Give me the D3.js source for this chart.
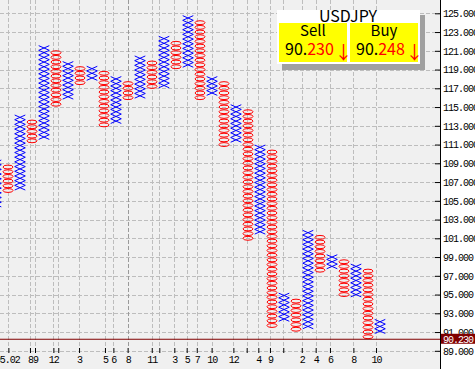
<!DOCTYPE html>
<html>
<head>
<meta charset="utf-8">
<script src="https://cdn.jsdelivr.net/npm/d3@7/dist/d3.min.js"></script>
<style>
    html, body { margin: 0; padding: 0; background: #fff; }
    svg { display: block; }
    .axis text { font-family: "Liberation Mono", monospace; font-size: 10px; letter-spacing: -1px; fill: #000; }
    .panel text { font-family: "Noto Sans CJK JP", "Noto Sans", sans-serif; }
</style>
</head>
<body>
<div id="chart"></div>
<script>
// point & figure columns, left to right (X = rising, O = falling)
const colTypes = ['X','O','X','O','X','O','X','O','X','O','X','O','X','O','X','O','X',
                  'O','X','O','X','O','X','O','X','O','X','O','X','O','X','O','X'];
const colHigh = [109.10, 108.60, 113.90, 113.40, 121.30, 120.80, 119.60, 119.10, 119.10, 118.60, 118.00,
                 117.50, 120.20, 119.70, 122.30, 121.80, 124.50, 124.00, 118.00, 117.50, 115.00, 114.50,
                 110.70, 110.20, 94.90, 94.30, 101.60, 101.10, 99.00, 98.50, 98.00, 97.50, 92.10];
const colLow  = [104.80, 105.90, 106.40, 111.20, 111.70, 115.50, 116.00, 117.50, 118.00, 112.90, 113.40,
                 116.00, 116.40, 117.00, 117.40, 119.10, 119.50, 116.10, 116.50, 111.20, 111.70, 101.20,
                 101.60, 91.70, 92.20, 91.20, 91.60, 97.60, 98.10, 94.80, 95.20, 90.50, 91.00];
const boxSize = 0.5;

// date ticks sit between columns (column units) with month labels
const dateTickCols   = [1.03, 2.83, 3.25, 4.78, 5.19, 6.92, 9.08, 9.78, 10.97, 12.98, 13.61, 14.86,
                        15.89, 16.73, 17.97, 19.78, 20.89, 21.86, 22.83, 23.94, 25.48, 26.64, 27.83, 29.78, 31.67];
const dateTickLabels = ['05.02', '8', '9', '12', '', '3', '5', '6', '8', '11', '', '3',
                        '5', '7', '10', '12', '', '4', '9', '', '2', '4', '6', '8', '10'];
const strongTick = 8;   // index of the darker grid line

const priceTicks = [125, 123, 121, 119, 117, 115, 113, 111, 109, 107, 105, 103, 101, 99, 97, 95, 93, 91, 89];
const lastPrice = 90.230;
const pairName = 'USDJPY';
const sellQuote = ['90.', '230'];
const buyQuote  = ['90.', '248'];

const W = 475, H = 369;
const plotRight = 440, plotBottom = 348;

const x = d3.scaleLinear().domain([0, 32]).range([-4, 380]);
const y = d3.scaleLinear().domain([89, 125]).range([350.8, 13.3]);
const boxPx = y(0) - y(boxSize);
const fmt = d3.format('.3f');

const svg = d3.select('#chart').append('svg')
    .attr('width', W).attr('height', H);

svg.append('rect').attr('width', W).attr('height', H).attr('fill', '#ffffff');
svg.append('rect').attr('width', plotRight).attr('height', H).attr('fill', '#f0f0f0');

// grid
const grid = svg.append('g');
grid.selectAll('line.h').data(priceTicks).join('line')
    .attr('x1', 0).attr('x2', plotRight)
    .attr('y1', d => Math.round(y(d)) + 0.5).attr('y2', d => Math.round(y(d)) + 0.5)
    .attr('stroke', '#bdbdbd').attr('stroke-dasharray', '4,2');
grid.selectAll('line.v').data(dateTickCols).join('line')
    .attr('x1', d => Math.round(x(d)) + 0.5).attr('x2', d => Math.round(x(d)) + 0.5)
    .attr('y1', 0).attr('y2', plotBottom)
    .attr('stroke', (d, i) => i === strongTick ? '#9a9a9a' : '#bdbdbd')
    .attr('stroke-dasharray', '4,2');

// columns
const cols = svg.append('g').selectAll('g')
    .data(colTypes.map((t, i) => ({ t, i, hi: colHigh[i], lo: colLow[i] })))
    .join('g');

cols.each(function(c) {
    const n = Math.round((c.hi - c.lo) / boxSize) + 1;
    const boxes = d3.range(n).map(k => c.hi - k * boxSize);
    const g = d3.select(this);
    const cx = x(c.i);
    const hw = 5.3, hh = boxPx / 2;
    if (c.t === 'X') {
        g.selectAll('path').data(boxes).join('path')
            .attr('d', p => {
                const cy = y(p);
                return `M${cx - hw},${cy - hh}L${cx + hw},${cy + hh}M${cx + hw},${cy - hh}L${cx - hw},${cy + hh}`;
            })
            .attr('fill', 'none').attr('stroke', '#0000ff').attr('stroke-width', 1);
    } else {
        g.selectAll('ellipse').data(boxes).join('ellipse')
            .attr('cx', cx).attr('cy', p => y(p))
            .attr('rx', hw - 0.3).attr('ry', hh - 0.4)
            .attr('fill', 'none').attr('stroke', '#ff0000').attr('stroke-width', 1);
    }
});

// current price line
svg.append('line')
    .attr('x1', 0).attr('x2', plotRight)
    .attr('y1', y(lastPrice)).attr('y2', y(lastPrice))
    .attr('stroke', '#800000').attr('stroke-width', 1.2);

// bottom date axis
const xAxis = d3.axisBottom(x)
    .tickValues(dateTickCols)
    .tickFormat((d, i) => dateTickLabels[i])
    .tickSizeInner(5).tickSizeOuter(0).tickPadding(3);
svg.append('g').attr('class', 'axis')
    .attr('transform', `translate(0,${plotBottom})`)
    .call(xAxis)
    .call(g => g.select('.domain').remove())
    .call(g => g.selectAll('.tick text').filter((d, i) => i === 0).attr('dx', -1.5));

// right price axis
const yAxis = d3.axisRight(y)
    .tickValues(priceTicks)
    .tickFormat(fmt)
    .tickSizeInner(-5).tickSizeOuter(0).tickPadding(3);
svg.append('g').attr('class', 'axis')
    .attr('transform', `translate(${plotRight},0)`)
    .call(yAxis)
    .call(g => g.select('.domain').remove());
svg.append('line')
    .attr('x1', plotRight + 0.5).attr('x2', plotRight + 0.5)
    .attr('y1', 0).attr('y2', H)
    .attr('stroke', '#000');

// last price marker
const tag = svg.append('g').attr('class', 'axis');
tag.append('rect')
    .attr('x', plotRight + 1).attr('y', y(lastPrice) - 5.5)
    .attr('width', W - plotRight - 1).attr('height', 10)
    .attr('fill', '#800000');
tag.append('text')
    .attr('x', plotRight + 3).attr('y', y(lastPrice) + 3.5)
    .style('fill', '#fff')
    .text(fmt(lastPrice));

// quote panel
const panel = svg.append('g').attr('class', 'panel');
panel.append('rect').attr('x', 282).attr('y', 15).attr('width', 143).attr('height', 55).attr('fill', '#a0a0a0');
panel.append('rect').attr('x', 277).attr('y', 10).attr('width', 143).attr('height', 54).attr('fill', '#ffffff');
panel.append('text').attr('x', 348).attr('y', 22).attr('text-anchor', 'middle')
    .attr('font-size', 16).attr('fill', '#000').text(pairName);

const quotes = [
    { label: 'Sell', q: sellQuote, x0: 279 },
    { label: 'Buy',  q: buyQuote,  x0: 350 }
];
quotes.forEach(d => {
    panel.append('rect').attr('x', d.x0).attr('y', 23).attr('width', 68).attr('height', 39).attr('fill', '#ffff00');
    panel.append('text').attr('x', d.x0 + 34).attr('y', 36).attr('text-anchor', 'middle')
        .attr('font-size', 15).attr('fill', '#000').text(d.label);
    const t = panel.append('text').attr('x', d.x0 + 6).attr('y', 55).attr('font-size', 16);
    t.append('tspan').attr('fill', '#000').text(d.q[0]);
    t.append('tspan').attr('fill', '#ff0000').text(d.q[1]);
    panel.append('text').attr('x', d.x0 + 64.5).attr('y', 59).attr('text-anchor', 'middle')
        .attr('font-size', 18).attr('fill', '#ff0000').text('↓');
});
</script>
</body>
</html>
